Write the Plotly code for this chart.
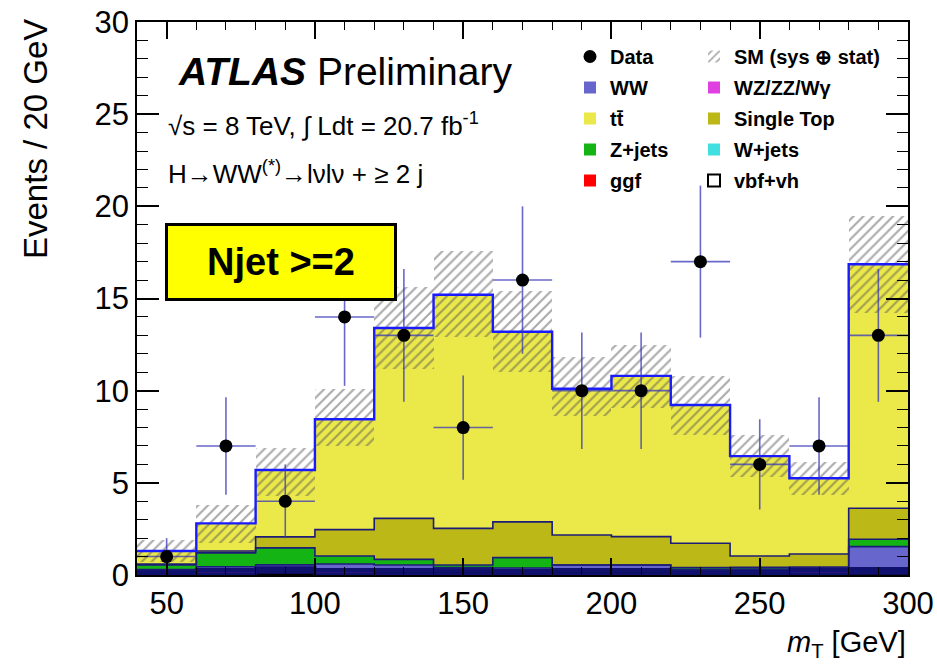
import numpy as np
import plotly.graph_objects as go

# ---------------- data ----------------
bin_edges = [40, 60, 80, 100, 120, 140, 160, 180, 200, 220, 240, 260, 280, 300]
data_counts = [1, 7, 4, 14, 13, 8, 16, 10, 10, 17, 6, 7, 13]

wjets = [0.05, 0.05, 0.15, 0.05, 0.05, 0.05, 0.05, 0.05, 0.05, 0.05, 0.05, 0.05, 0.10]
wzzz = [0.10, 0.15, 0.15, 0.15, 0.15, 0.15, 0.10, 0.15, 0.15, 0.10, 0.10, 0.15, 0.15]
ggf = [0.05, 0.10, 0.10, 0.10, 0.10, 0.10, 0.10, 0.10, 0.10, 0.10, 0.10, 0.10, 0.10]
ww = [0.10, 0.15, 0.15, 0.30, 0.24, 0.10, 0.13, 0.24, 0.24, 0.05, 0.07, 0.12, 1.19]
zjets = [0.25, 0.75, 0.92, 0.43, 0.31, 0.14, 0.56, 0.00, 0.00, 0.10, 0.10, 0.00, 0.40]
single_top = [0.05, 0.10, 0.60, 1.43, 2.22, 1.99, 1.94, 1.63, 1.54, 1.32, 0.61, 0.72, 1.68]
ttbar = [0.70, 1.50, 3.63, 5.99, 10.33, 12.67, 10.32, 7.93, 8.72, 7.50, 5.42, 4.11, 13.24]
vbf_vh = [0.02, 0.03, 0.05, 0.08, 0.10, 0.10, 0.12, 0.10, 0.10, 0.08, 0.06, 0.05, 0.06]

sm_band_low = [0.72, 1.74, 4.3, 7.0, 11.2, 12.9, 11.0, 8.6, 9.05, 7.6, 5.3, 4.35, 14.2]
sm_band_high = [1.9, 3.8, 6.9, 10.1, 15.6, 17.6, 15.4, 11.85, 12.5, 10.8, 7.6, 6.15, 19.5]

x_ticks = [50, 100, 150, 200, 250, 300]
y_ticks = [0, 5, 10, 15, 20, 25, 30]

# ---------------- derived ----------------
edges = np.array(bin_edges, dtype=float)
centers = 0.5 * (edges[:-1] + edges[1:])
widths = np.diff(edges)

layers = [
    ("W+jets", wjets, "#40e0e0", "legend2", 4, True),
    ("WZ/ZZ/W\u03b3", wzzz, "#e040e0", "legend2", 2, True),
    ("ggf", ggf, "#ff0000", "legend", 5, True),
    ("WW", ww, "#6666cc", "legend", 2, False),
    ("Z+jets", zjets, "#14b414", "legend", 4, False),
    ("Single Top", single_top, "#bcb818", "legend2", 3, False),
    ("tt\u0304", ttbar, "#ebe84a", "legend", 3, False),
]

OUTLINE = "#1c1c78"
FONT = "Liberation Sans, Arial, sans-serif"

fig = go.Figure()

base = np.zeros(len(centers))
tops = []
for name, vals, col, leg, rank, thin in layers:
    v = np.array(vals, dtype=float)
    fig.add_trace(go.Bar(
        x=centers, y=v, base=base.copy(), width=widths, name=name,
        marker=dict(color=col, line=dict(width=0)),
        legend=leg, legendgroup=name, legendrank=rank,
    ))
    base = base + v
    tops.append((base.copy(), thin))

total = base.copy()

# SM uncertainty band (hatched)
band_low = np.array(sm_band_low)
band_high = np.array(sm_band_high)
fig.add_trace(go.Bar(
    x=centers, y=band_high - band_low, base=band_low, width=widths,
    name="SM (sys \u2295 stat)",
    marker=dict(color="rgba(0,0,0,0)", line=dict(width=0),
                pattern=dict(shape="/", fgcolor="#555555", bgcolor="rgba(0,0,0,0)",
                             size=7, solidity=0.3, fillmode="overlay")),
    legend="legend2", legendgroup="sm", legendrank=1,
))

# vbf+vh signal outline
fig.add_trace(go.Bar(
    x=centers, y=vbf_vh, width=widths, name="vbf+vh",
    marker=dict(color="rgba(255,255,255,0)", line=dict(color="black", width=2)),
    legend="legend2", legendgroup="vbf", legendrank=5,
))

# step outlines of stack layers
for t, thin in tops[:-1]:
    fig.add_trace(go.Scatter(
        x=edges, y=np.append(t, t[-1]), mode="lines", line_shape="hv",
        line=dict(color="#10106e" if thin else OUTLINE, width=3 if thin else 1.6),
        showlegend=False, hoverinfo="skip",
    ))

# SM total line
fig.add_trace(go.Scatter(
    x=edges, y=np.append(total, total[-1]), mode="lines", line_shape="hv",
    line=dict(color="#1a1aff", width=2.4), showlegend=False, hoverinfo="skip",
))

# data
dc = np.array(data_counts, dtype=float)
fig.add_trace(go.Scatter(
    x=centers, y=dc, mode="markers", name="Data",
    marker=dict(color="black", size=13, symbol="circle"),
    error_y=dict(type="data", array=np.sqrt(dc), color="rgba(55,55,185,0.75)",
                 thickness=1.6, width=0),
    error_x=dict(type="data", array=widths / 2, color="rgba(55,55,185,0.75)",
                 thickness=1.6, width=0),
    legend="legend", legendgroup="data", legendrank=1,
))

# ---------------- layout ----------------
W, H = 937, 667
PX0, PX1, PY0, PY1 = 137, 908, 22, 575  # plot area in pixels
L, R = PX0, W - PX1
T, B = PY0, H - PY1


def px(xp):
    return (xp - PX0) / (PX1 - PX0)


def py(yp):
    return (PY1 - yp) / (PY1 - PY0)


legend_font = dict(family="Liberation Sans, Arial", size=20,
                   color="black", weight="bold")

fig.update_layout(
    width=W, height=H,
    margin=dict(l=L, r=R, t=T, b=B, autoexpand=False),
    paper_bgcolor="white", plot_bgcolor="white",
    barmode="overlay", bargap=0,
    font=dict(family=FONT, color="black"),
    showlegend=True,
    legend=dict(x=px(570), y=py(37), xanchor="left", yanchor="top",
                bgcolor="rgba(0,0,0,0)", font=legend_font, tracegroupgap=2,
                itemwidth=30, traceorder="grouped"),
    legend2=dict(x=px(694), y=py(37), xanchor="left", yanchor="top",
                 bgcolor="rgba(0,0,0,0)", font=legend_font, tracegroupgap=2,
                 itemwidth=30, traceorder="grouped"),
    xaxis=dict(range=[40, 300], tickvals=x_ticks, ticks="inside", ticklen=17,
               tickwidth=1.5, tickcolor="black", showgrid=False, zeroline=False,
               showline=True, linecolor="black", linewidth=1.5, mirror="ticks",
               automargin=False,
               tickfont=dict(family=FONT, size=31, color="black"),
               minor=dict(dtick=10, ticks="inside", ticklen=8, tickwidth=1.2,
                          tickcolor="black", showgrid=False),
               layer="above traces"),
    yaxis=dict(range=[0, 30], tickvals=y_ticks, ticks="inside", ticklen=22,
               tickwidth=1.5, tickcolor="black", showgrid=False, zeroline=False,
               showline=True, linecolor="black", linewidth=1.5, mirror="ticks",
               automargin=False,
               tickfont=dict(family=FONT, size=31, color="black"),
               minor=dict(dtick=1, ticks="inside", ticklen=11, tickwidth=1.2,
                          tickcolor="black", showgrid=False),
               layer="above traces"),
)

annotations = [
    dict(x=px(176), y=py(72), xref="paper", yref="paper", xanchor="left", yanchor="middle",
         text="<b><i>ATLAS</i></b> Preliminary", showarrow=False,
         font=dict(family=FONT, size=39, color="black")),
    dict(x=px(166), y=py(124), xref="paper", yref="paper", xanchor="left", yanchor="middle",
         text="\u221as = 8 TeV, \u222b Ldt = 20.7 fb<sup>-1</sup>", showarrow=False,
         font=dict(family=FONT, size=26, color="black")),
    dict(x=px(166), y=py(172), xref="paper", yref="paper", xanchor="left", yanchor="middle",
         text="H\u2192WW<sup>(*)</sup>\u2192l\u03bdl\u03bd + \u2265 2 j", showarrow=False,
         font=dict(family=FONT, size=26, color="black")),
    dict(x=px(281), y=py(262), xref="paper", yref="paper", xanchor="center", yanchor="middle",
         text="<b>Njet &gt;=2</b>", showarrow=False, width=224, height=70,
         bgcolor="#ffff00", bordercolor="black", borderwidth=3, borderpad=1,
         font=dict(family=FONT, size=38, color="black")),
    dict(x=1.0, y=py(664), xref="paper", yref="paper", xanchor="right", yanchor="bottom",
         text="<i>m</i><sub>T</sub> [GeV]", showarrow=False,
         font=dict(family=FONT, size=29, color="black")),
    dict(x=px(35), y=py(17), xref="paper", yref="paper", xanchor="center", yanchor="top",
         text="Events / 20 GeV", showarrow=False, textangle=-90,
         font=dict(family=FONT, size=33, color="black")),
]
fig.update_layout(annotations=annotations)

fig.write_html(
    "out.html",
    config={"displayModeBar": False},
    post_script="document.body.style.margin='0px';document.body.style.overflow='hidden';",
)
